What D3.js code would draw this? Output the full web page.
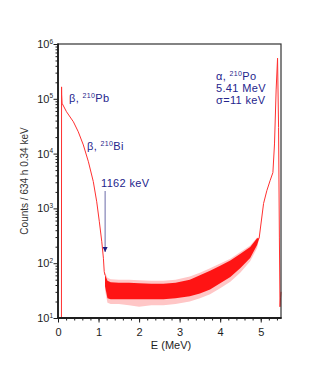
<html>
<script src="https://d3js.org/d3.v7.min.js"></script>
<style>
  body { margin: 0; background: #fff; }
  text { font-family: "Liberation Sans", Arial, sans-serif; }
</style>
<body>
<svg width="327" height="382"></svg>
<script>
// smooth part of the spectrum: beta continuum (left) and alpha peak (right)
var betaE = [0.085, 0.088, 0.09, 0.10, 0.21, 0.38, 0.50, 0.625, 0.75, 0.87, 0.955, 1.02, 1.08, 1.12, 1.14, 1.16];
var betaC = [10, 165000, 120000, 83000, 58000, 38000, 25000, 14400, 7100, 3100, 1320, 570, 246, 123, 70, 60];

var alphaE = [4.96, 5.07, 5.15, 5.23, 5.30, 5.34, 5.38, 5.415, 5.44, 5.46, 5.475, 5.49, 5.5];
var alphaC = [282, 1230, 2100, 3200, 4500, 15000, 145000, 550000, 30000, 300, 16, 24, 30];

// noisy flat region read as envelopes: dense core and outer spikes
var bandE    = [1.16, 1.22, 1.3, 1.5, 1.75, 2.0, 2.3, 2.6, 2.9, 3.25, 3.5, 3.75, 4.0, 4.25, 4.5, 4.74, 4.91, 4.96];
var bandLo   = [38, 23, 22, 22, 22, 22, 22, 22, 23, 25, 28, 33, 43, 56, 82, 125, 215, 280];
var bandHi   = [62, 48, 45, 44, 44, 43, 42, 42, 44, 50, 60, 73, 90, 112, 148, 198, 285, 284];
var spikeLo  = [32, 19, 18, 18, 17, 16, 17, 17, 18, 20, 23, 27, 35, 46, 68, 108, 190, 280];
var spikeHi  = [68, 54, 51, 50, 50, 49, 48, 48, 50, 57, 67, 81, 99, 121, 160, 210, 295, 288];

var xTicks = [0, 1, 2, 3, 4, 5];
var yTicks = [1, 2, 3, 4, 5, 6];   // exponents of 10
var markE = 1.162;

var svg = d3.select("svg");
var pL = 58, pR = 281, pT = 44, pB = 318;

var x = d3.scaleLinear().domain([0, 5.5]).range([pL, pR]);
var y = d3.scaleLog().domain([10, 1e6]).range([pB, pT]).clamp(true);

var ink = "#1e1e1e";
var blue = "#24248c";

// outer spikes (pink) and dense core (red)
var spikes = d3.range(bandE.length).map(function(i) { return [bandE[i], spikeLo[i], spikeHi[i]]; });
var core = d3.range(bandE.length).map(function(i) { return [bandE[i], bandLo[i], bandHi[i]]; });

var area = d3.area()
  .x(function(d) { return x(d[0]); })
  .y0(function(d) { return y(d[1]); })
  .y1(function(d) { return y(d[2]); });

svg.append("path").datum(spikes).attr("d", area).attr("fill", "#ffc6c6");
svg.append("path").datum(core).attr("d", area).attr("fill", "#ff1414");

var line = d3.line()
  .x(function(d) { return x(d[0]); })
  .y(function(d) { return y(d[1]); });

svg.append("path")
  .datum(d3.zip(betaE, betaC))
  .attr("d", line)
  .attr("fill", "none")
  .attr("stroke", "#ff3030")
  .attr("stroke-width", 1);

svg.append("path")
  .datum(d3.zip(alphaE, alphaC))
  .attr("d", line)
  .attr("fill", "none")
  .attr("stroke", "#ff3030")
  .attr("stroke-width", 1);

// frame
svg.append("rect")
  .attr("x", pL).attr("y", pT)
  .attr("width", pR - pL).attr("height", pB - pT)
  .attr("fill", "none").attr("stroke", "#333").attr("stroke-width", 1.2);

// x axis
var xAxis = svg.append("g").attr("transform", "translate(0," + pB + ")");
xAxis.call(d3.axisBottom(x).tickValues(d3.range(0, 5.5001, 0.2)).tickSize(2.5).tickFormat(""));
xAxis.select(".domain").remove();
xAxis.selectAll("line").attr("stroke", ink);
var xMajor = svg.append("g").attr("transform", "translate(0," + pB + ")");
xMajor.call(d3.axisBottom(x).tickValues(xTicks).tickSize(4.5).tickPadding(6).tickFormat(d3.format("d")));
xMajor.select(".domain").remove();
xMajor.selectAll("line").attr("stroke", ink);
xMajor.selectAll("text").attr("font-size", 11).attr("fill", ink)
  .attr("font-family", "Liberation Sans, Arial, sans-serif");

svg.append("line")
  .attr("x1", pL - 1).attr("x2", pR + 0.6)
  .attr("y1", pB).attr("y2", pB)
  .attr("stroke", ink).attr("stroke-width", 1.8);

// y axis
var minor = [];
for (var e = 1; e < 6; e++) for (var m = 2; m <= 9; m++) minor.push(m * Math.pow(10, e));
var yMinor = svg.append("g").attr("transform", "translate(" + pL + ",0)");
yMinor.call(d3.axisLeft(y).tickValues(minor).tickSize(2.5).tickFormat(""));
yMinor.select(".domain").remove();
yMinor.selectAll("line").attr("stroke", ink);
var yMajor = svg.append("g").attr("transform", "translate(" + pL + ",0)");
yMajor.call(d3.axisLeft(y).tickValues(yTicks.map(function(k) { return Math.pow(10, k); })).tickSize(4.5).tickFormat(""));
yMajor.select(".domain").remove();
yMajor.selectAll("line").attr("stroke", ink);

var yl = svg.append("g").selectAll("text").data(yTicks).enter().append("text")
  .attr("x", pL - 5)
  .attr("y", function(k) { return y(Math.pow(10, k)) + 4; })
  .attr("text-anchor", "end")
  .attr("font-size", 11)
  .attr("fill", ink);
yl.append("tspan").text("10");
yl.append("tspan").attr("dy", -4.5).attr("font-size", 6.5).text(function(k) { return k; });

svg.append("line")
  .attr("x1", pL).attr("x2", pL)
  .attr("y1", pT - 0.6).attr("y2", pB + 1)
  .attr("stroke", ink).attr("stroke-width", 1.8);

// axis titles
svg.append("text")
  .attr("x", 171).attr("y", 349)
  .attr("text-anchor", "middle")
  .attr("font-size", 11).attr("fill", ink)
  .text("E (MeV)");

svg.append("text")
  .attr("transform", "translate(28,181) rotate(-90)")
  .attr("text-anchor", "middle")
  .attr("font-size", 10).attr("fill", "#333")
  .text("Counts / 634 h 0.34 keV");

// annotations
function note(px, py) {
  return svg.append("text").attr("x", px).attr("y", py)
    .attr("font-size", 11).attr("letter-spacing", 0.35).attr("fill", blue);
}
function label(px, py, greek, iso, name) {
  var t = note(px, py);
  t.append("tspan").text(greek + ", ");
  t.append("tspan").attr("dy", -4.5).attr("font-size", 7).text(iso);
  t.append("tspan").attr("dy", 4.5).text(name);
  return t;
}
label(69, 102, "\u03b2", "210", "Pb");
label(87, 150, "\u03b2", "210", "Bi");
label(216, 80, "\u03b1", "210", "Po");
note(216, 92).text("5.41 MeV");
note(216, 104).text("\u03c3=11 keV");
note(101, 187).text("1162 keV");

// arrow at 1162 keV
svg.append("defs").append("marker")
  .attr("id", "head").attr("viewBox", "0 0 10 10")
  .attr("refX", 10).attr("refY", 5)
  .attr("markerWidth", 5).attr("markerHeight", 6)
  .attr("markerUnits", "userSpaceOnUse")
  .attr("orient", "auto")
  .append("path").attr("d", "M0,0 L10,5 L0,10 z").attr("fill", "#1c1c80");

svg.append("line")
  .attr("x1", x(markE)).attr("x2", x(markE))
  .attr("y1", 191).attr("y2", 252)
  .attr("stroke", "#6a6aa8").attr("stroke-width", 1)
  .attr("marker-end", "url(#head)");
</script>
</body>
</html>
